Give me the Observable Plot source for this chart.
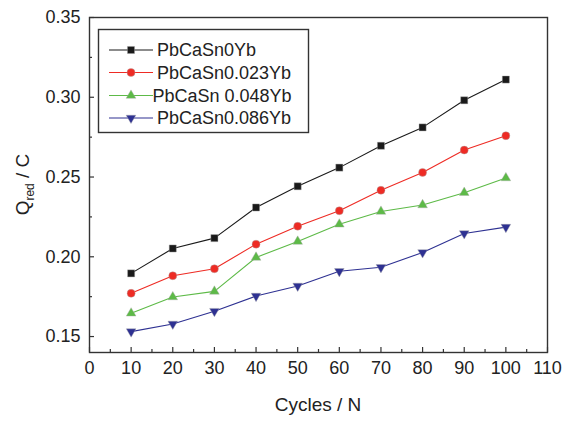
<!DOCTYPE html>
<html><head><meta charset="utf-8">
<script src="https://cdn.jsdelivr.net/npm/d3@7"></script>
<script src="https://cdn.jsdelivr.net/npm/@observablehq/plot@0.6"></script>
<style>
body{margin:0;background:#fff}
#chart{position:relative;width:563px;height:421px;font-family:"Liberation Sans",Arial,sans-serif}
</style>
</head><body><div id="chart"></div>
<script>
const cycles = [10, 20, 30, 40, 50, 60, 70, 80, 90, 100];
const seriesNames = ["PbCaSn0Yb", "PbCaSn0.023Yb", "PbCaSn 0.048Yb", "PbCaSn0.086Yb"];
const yb0    = [0.1896, 0.2052, 0.2117, 0.2309, 0.2442, 0.2559, 0.2696, 0.2811, 0.2981, 0.3111];
const yb0023 = [0.1771, 0.1881, 0.1925, 0.2079, 0.2192, 0.2288, 0.2417, 0.2529, 0.2669, 0.2759];
const yb0048 = [0.1646, 0.1748, 0.1783, 0.1996, 0.2096, 0.2204, 0.2284, 0.2325, 0.2402, 0.2494];
const yb0086 = [0.1531, 0.1579, 0.1659, 0.1754, 0.1817, 0.1909, 0.1934, 0.2027, 0.2146, 0.2186];
const seriesValues = [yb0, yb0023, yb0048, yb0086];
const colors = ["#1a1a1a", "#ee2b24", "#5dba47", "#2e3192"];
const xTicks = [0, 10, 20, 30, 40, 50, 60, 70, 80, 90, 100, 110];
const xMinor = [5, 15, 25, 35, 45, 55, 65, 75, 85, 95, 105];
const yTicks = [0.15, 0.20, 0.25, 0.30, 0.35];
const yMinor = [0.175, 0.225, 0.275, 0.325];

const triDown = {draw(context, size) {
  const y = -Math.sqrt(size / (Math.sqrt(3) * 3));
  context.moveTo(0, -y * 2);
  context.lineTo(-Math.sqrt(3) * y, y);
  context.lineTo(Math.sqrt(3) * y, y);
  context.closePath();
}};
const symbols = ["square", "circle", "triangle", triDown];
const radii = [4, 4, 3.6, 3.6];

const rows = [];
seriesNames.forEach((s, i) => cycles.forEach((c, j) => rows.push({series: s, idx: i, x: c, y: seriesValues[i][j]})));

const W = 563, H = 421, mL = 89, mT = 17, mR = 16, mB = 69;
const fw = W - mL - mR, fh = H - mT - mB;
const axisColor = "#333";

const marks = [];
seriesNames.forEach((s, i) => {
  const d = rows.filter(r => r.idx === i);
  marks.push(Plot.line(d, {x: "x", y: "y", stroke: colors[i], strokeWidth: 1.1}));
  marks.push(Plot.dot(d, {x: "x", y: "y", fill: colors[i], stroke: "#aaa", strokeWidth: 0.4, symbol: () => symbols[i], r: radii[i]}));
});

const chart = Plot.plot({
  width: W, height: H,
  marginLeft: mL, marginTop: mT, marginRight: mR, marginBottom: mB,
  style: {fontFamily: '"Liberation Sans", Arial, sans-serif', fontSize: "18px", color: "#222", background: "#fff"},
  x: {domain: [0, 110]},
  y: {domain: [0.14, 0.35]},
  marks: [
    Plot.tickX(xTicks, {x: d => d, insetTop: fh - 5, stroke: axisColor, strokeWidth: 1.2}),
    Plot.tickX(xMinor, {x: d => d, insetTop: fh - 3, stroke: axisColor, strokeWidth: 1.2}),
    Plot.tickY(yTicks, {y: d => d, insetRight: fw - 5, stroke: axisColor, strokeWidth: 1.2}),
    Plot.tickY(yMinor, {y: d => d, insetRight: fw - 3, stroke: axisColor, strokeWidth: 1.2}),
    Plot.axisX({ticks: xTicks, tickSize: 0, tickPadding: 9, tickFormat: d => String(d), label: null, fontSize: 18}),
    Plot.axisY({ticks: yTicks, tickSize: 0, tickPadding: 9, tickFormat: d3.format(".2f"), label: null, fontSize: 18}),
    ...marks,
    Plot.frame({stroke: axisColor, strokeWidth: 1.4})
  ]
});
document.getElementById("chart").appendChild(chart);

const svg = d3.select(chart);
// axis titles
svg.append("text").attr("x", mL + fw / 2).attr("y", 411).attr("text-anchor", "middle")
  .attr("font-size", 19).attr("fill", "#222").text("Cycles / N");
const yl = svg.append("text").attr("transform", `translate(29,${mT + fh / 2}) rotate(-90)`)
  .attr("text-anchor", "middle").attr("font-size", 19).attr("fill", "#222");
yl.append("tspan").text("Q");
yl.append("tspan").attr("font-size", 12).attr("dy", 5).text("red");
yl.append("tspan").attr("dy", -5).text(" / C");

// legend
const lg = svg.append("g").attr("text-anchor", "start");
lg.append("rect").attr("x", 98.5).attr("y", 29.5).attr("width", 210).attr("height", 103)
  .attr("fill", "#fff").attr("stroke", axisColor).attr("stroke-width", 1.4);
const rowY = [50, 72.5, 95.5, 118];
const textX = [157, 157, 152.5, 157];
seriesNames.forEach((s, i) => {
  lg.append("line").attr("x1", 109).attr("x2", 153).attr("y1", rowY[i]).attr("y2", rowY[i])
    .attr("stroke", colors[i]).attr("stroke-width", 1.1);
  const sym = typeof symbols[i] === "string" ? d3.symbol(d3["symbol" + symbols[i][0].toUpperCase() + symbols[i].slice(1)], Math.PI * radii[i] ** 2)
    : d3.symbol(symbols[i], Math.PI * radii[i] ** 2);
  lg.append("path").attr("d", sym()).attr("transform", `translate(131,${rowY[i]})`)
    .attr("fill", colors[i]).attr("stroke", "#aaa").attr("stroke-width", 0.4);
  lg.append("text").attr("x", textX[i]).attr("y", rowY[i]).attr("dy", "0.35em")
    .attr("text-anchor", "start").attr("font-size", 18).attr("fill", "#222").text(s);
});
</script>
</body></html>
